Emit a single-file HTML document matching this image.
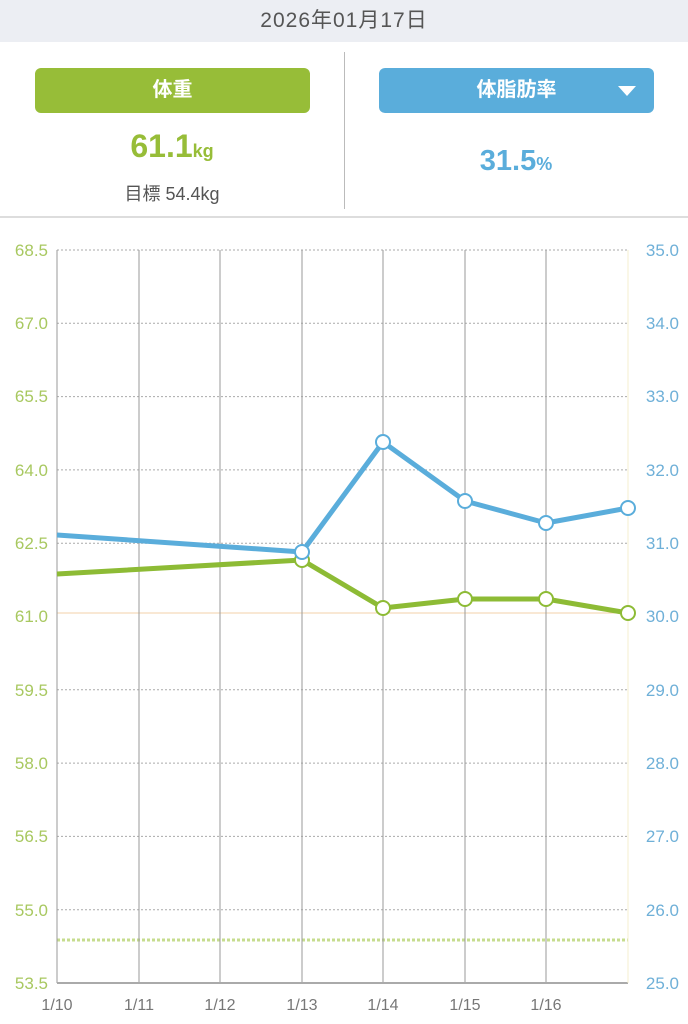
<!DOCTYPE html>
<html><head><meta charset="utf-8"><style>
body{margin:0;width:688px;height:1024px;background:#fff;font-family:"Liberation Sans","Noto Sans CJK JP",sans-serif;overflow:hidden;position:relative}
.hdr{position:absolute;left:0;top:0;width:688px;height:42px;background:#eceef3;text-align:center;line-height:42px;font-size:21px;color:#555;letter-spacing:1px}
.btn{position:absolute;top:68px;height:45px;border-radius:6px;color:#fff;font-size:20px;font-weight:bold;text-align:center;line-height:45px}
</style></head><body>
<div class="hdr">2026年01月17日</div>
<div class="btn" style="left:35px;width:275px;background:#97bd38">体重</div>
<div class="btn" style="left:379px;width:275px;background:#5aaddb">体脂肪率<span style="position:absolute;right:18px;top:18px;width:0;height:0;border-left:9px solid transparent;border-right:9px solid transparent;border-top:10px solid #fff"></span></div>
<div style="position:absolute;left:344px;top:52px;width:1px;height:157px;background:#bbb"></div>
<div style="position:absolute;left:0;top:216px;width:688px;height:2px;background:#ddd"></div>
<div style="position:absolute;left:0;width:344px;top:128px;text-align:center;color:#97bd38;font-weight:bold;font-size:32px">61.1<span style="font-size:18px">kg</span></div>
<div style="position:absolute;left:0;width:344px;top:180px;text-align:center;color:#555;font-size:18px">目標 54.4kg</div>
<div style="position:absolute;left:344px;width:344px;top:145px;text-align:center;color:#5aaddb;font-weight:bold;font-size:29px">31.5<span style="font-size:18px">%</span></div>
<svg width="688" height="1024" style="position:absolute;left:0;top:0" font-family="Liberation Sans, sans-serif">
<g stroke="#aaa" stroke-width="1" stroke-dasharray="2,2">
<line x1="57" x2="628" y1="250" y2="250"/><line x1="57" x2="628" y1="323.3" y2="323.3"/><line x1="57" x2="628" y1="396.6" y2="396.6"/><line x1="57" x2="628" y1="469.9" y2="469.9"/><line x1="57" x2="628" y1="543.2" y2="543.2"/><line x1="57" x2="628" y1="689.8" y2="689.8"/><line x1="57" x2="628" y1="763.1" y2="763.1"/><line x1="57" x2="628" y1="836.4" y2="836.4"/><line x1="57" x2="628" y1="909.7" y2="909.7"/>
</g>
<line x1="57" x2="628" y1="613" y2="613" stroke="#f3d2a8" stroke-width="1"/>
<line x1="57" x2="628" y1="940" y2="940" stroke="#c6dc8e" stroke-width="3" stroke-dasharray="3,2"/>
<g stroke="#999" stroke-width="1">
<line x1="57" x2="57" y1="250" y2="983"/><line x1="139" x2="139" y1="250" y2="983"/><line x1="220" x2="220" y1="250" y2="983"/><line x1="302" x2="302" y1="250" y2="983"/><line x1="383" x2="383" y1="250" y2="983"/><line x1="465" x2="465" y1="250" y2="983"/><line x1="546" x2="546" y1="250" y2="983"/>
<line x1="57" x2="628" y1="983" y2="983" stroke="#aaa" stroke-width="2"/>
</g>
<line x1="628" x2="628" y1="250" y2="983" stroke="#f5efcf"/>
<polyline points="57,574 302,560 383,608 465,599 546,599 628,613" fill="none" stroke="#8dbb35" stroke-width="5" stroke-linejoin="round"/>
<polyline points="57,535 302,552 383,442 465,501 546,523 628,508" fill="none" stroke="#5aaddb" stroke-width="5" stroke-linejoin="round"/>
<g fill="#fff" stroke="#8dbb35" stroke-width="2"><circle cx="302" cy="560" r="7"/><circle cx="383" cy="608" r="7"/><circle cx="465" cy="599" r="7"/><circle cx="546" cy="599" r="7"/><circle cx="628" cy="613" r="7"/></g>
<g fill="#fff" stroke="#5aaddb" stroke-width="2"><circle cx="302" cy="552" r="7"/><circle cx="383" cy="442" r="7"/><circle cx="465" cy="501" r="7"/><circle cx="546" cy="523" r="7"/><circle cx="628" cy="508" r="7"/></g>
<g fill="#a8c860" font-size="17" text-anchor="end">
<text x="48" y="256">68.5</text><text x="48" y="329">67.0</text><text x="48" y="402">65.5</text><text x="48" y="476">64.0</text><text x="48" y="549">62.5</text><text x="48" y="622">61.0</text><text x="48" y="696">59.5</text><text x="48" y="769">58.0</text><text x="48" y="842">56.5</text><text x="48" y="916">55.0</text><text x="48" y="989">53.5</text>
</g>
<g fill="#6fb0d8" font-size="17" text-anchor="end">
<text x="679" y="256">35.0</text><text x="679" y="329">34.0</text><text x="679" y="402">33.0</text><text x="679" y="476">32.0</text><text x="679" y="549">31.0</text><text x="679" y="622">30.0</text><text x="679" y="696">29.0</text><text x="679" y="769">28.0</text><text x="679" y="842">27.0</text><text x="679" y="916">26.0</text><text x="679" y="989">25.0</text>
</g>
<g fill="#777" font-size="16" text-anchor="middle">
<text x="57" y="1010">1/10</text><text x="139" y="1010">1/11</text><text x="220" y="1010">1/12</text><text x="302" y="1010">1/13</text><text x="383" y="1010">1/14</text><text x="465" y="1010">1/15</text><text x="546" y="1010">1/16</text>
</g>
</svg>
</body></html>
